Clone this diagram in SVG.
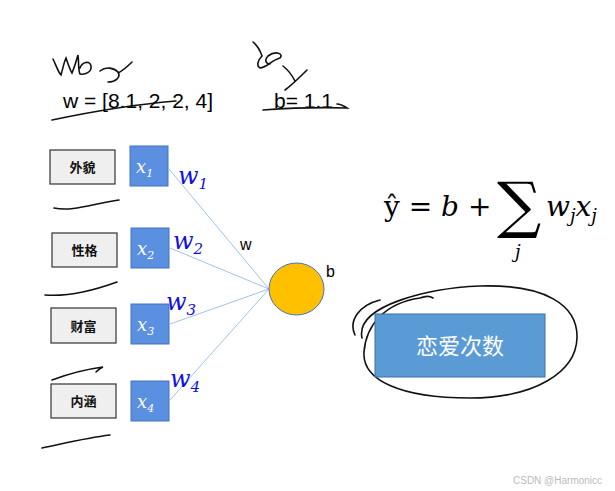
<svg xmlns="http://www.w3.org/2000/svg" width="615" height="491" viewBox="0 0 615 491">
<defs>
<style>
.lbl{fill:#EFEFEF;stroke:#333;stroke-width:1.2}
.lbltxt{font-family:"Noto Sans CJK SC","Noto Sans",sans-serif;font-size:13px;font-weight:bold;fill:#111;text-anchor:middle}
.xbox{fill:#5B8FDF;stroke:#4472C4;stroke-width:1}
.xtxt{font-family:"DejaVu Serif","Liberation Serif",serif;font-style:italic;font-size:18px;fill:#fff}
.sub{font-size:11px}
.wtxt{font-family:"DejaVu Serif","Liberation Serif",serif;font-style:italic;font-size:24px;fill:#1010E0}
.wsub{font-size:15px}
.conn{stroke:#9DC3F0;stroke-width:1;fill:none}
.ink{stroke:#111;stroke-width:1.6;fill:none;stroke-linecap:round}
.plain{font-family:"Liberation Sans",Arial,sans-serif;font-size:21px;fill:#000}
.math{font-family:"DejaVu Serif","Liberation Serif",serif;font-size:28px;fill:#000}
</style>
</defs>
<rect width="615" height="491" fill="#fff"/>

<!-- top texts -->
<text class="plain" x="63" y="108">w = [8.1, 2, 2, 4]</text>
<text class="plain" x="274" y="108">b= 1.1</text>

<!-- handwriting scribbles -->
<g id="scribbles">
<path class="ink" d="M53,59 C56,65 58,72 61,75 C63,68 64,62 66,58 C68,64 70,70 72,73 C75,66 77,58 78,55 C79,62 78,70 80,74 C85,75 92,72 91,66 C90,60 82,62 80,68"/>
<path class="ink" d="M100,71 C106,66 114,68 118,72 C121,77 116,82 108,82 M118,73 C124,70 128,66 132,62"/>
<path class="ink" d="M52,120 C90,112 140,104 176,101"/>
<path class="ink" d="M253,42 C258,46 260,50 262,56 C258,60 256,66 260,68 C266,68 272,60 280,58 C284,54 276,50 268,56 C264,60 266,64 270,64"/>
<path class="ink" d="M283,66 C288,70 292,75 295,81 M307,70 C299,78 292,85 285,90"/>
<path class="ink" d="M263,110 C290,108 320,107 347,108 C344,106 340,104 337,104"/>
<path class="ink" d="M54,208 C72,212 92,204 119,200"/>
<path class="ink" d="M45,295 C70,297 95,290 117,282"/>
<path class="ink" d="M52,380 C68,374 88,369 103,367 C100,368 98,370 96,372"/>
<path class="ink" d="M42,448 C62,444 85,438 110,435"/>
<path class="ink" d="M362,338 C355,305 430,288 480,286 C545,284 578,305 577,338 C576,372 535,398 470,398 C400,398 362,380 364,352 C366,325 385,303 420,298 C425,296 430,296 433,298 M355,335 C348,320 360,305 380,300"/>
</g>

<!-- connectors -->
<g id="connectors">
<line class="conn" x1="169" y1="169" x2="269" y2="289"/>
<line class="conn" x1="170" y1="248" x2="269" y2="289"/>
<line class="conn" x1="170" y1="324" x2="269" y2="289"/>
<line class="conn" x1="170" y1="400" x2="269" y2="289"/>
<text class="plain" x="240" y="250" style="font-size:16px">w</text>
<text class="wtxt" x="178" y="184">w<tspan class="wsub" dy="5">1</tspan></text>
<text class="wtxt" x="173" y="249">w<tspan class="wsub" dy="5">2</tspan></text>
<text class="wtxt" x="166" y="310">w<tspan class="wsub" dy="5">3</tspan></text>
<text class="wtxt" x="170" y="387">w<tspan class="wsub" dy="5">4</tspan></text>
</g>

<!-- label boxes -->
<g id="lbl1"><rect class="lbl" x="50" y="150" width="65" height="34"/><text class="lbltxt" x="82.5" y="172">外貌</text></g>
<g id="lbl2"><rect class="lbl" x="52" y="233" width="65" height="34"/><text class="lbltxt" x="84.5" y="255">性格</text></g>
<g id="lbl3"><rect class="lbl" x="51" y="308" width="65" height="35"/><text class="lbltxt" x="83.5" y="331">财富</text></g>
<g id="lbl4"><rect class="lbl" x="51" y="384" width="65" height="34"/><text class="lbltxt" x="83.5" y="406">内涵</text></g>

<!-- input boxes -->
<g id="x1"><rect class="xbox" x="130" y="146" width="38" height="40"/><text class="xtxt" x="136" y="173">x<tspan class="sub" dy="4">1</tspan></text></g>
<g id="x2"><rect class="xbox" x="131" y="228" width="38" height="40"/><text class="xtxt" x="137" y="255">x<tspan class="sub" dy="4">2</tspan></text></g>
<g id="x3"><rect class="xbox" x="131" y="304" width="38" height="40"/><text class="xtxt" x="137" y="331">x<tspan class="sub" dy="4">3</tspan></text></g>
<g id="x4"><rect class="xbox" x="131" y="381" width="38" height="40"/><text class="xtxt" x="137" y="408">x<tspan class="sub" dy="4">4</tspan></text></g>

<!-- neuron -->
<g id="neuron">
<ellipse cx="296.5" cy="289" rx="27.5" ry="26" fill="#FFC000" stroke="#4472C4" stroke-width="1"/>
<text class="plain" x="326" y="277" style="font-size:16px">b</text>
</g>

<!-- formula -->
<g id="formula">
<text class="math" x="384" y="216">ŷ = <tspan font-style="italic">b</tspan> +</text>
<text class="math" x="497" y="226" style="font-size:62px">∑</text>
<text class="math" x="515" y="258" style="font-size:18px;font-style:italic">j</text>
<text class="math" x="546" y="216" font-style="italic">w<tspan style="font-size:18px" dy="6">j</tspan><tspan dy="-6">x</tspan><tspan style="font-size:18px" dy="6">j</tspan></text>
</g>

<!-- output -->
<g id="output">
<rect x="375" y="314" width="170" height="63" fill="#5B9BD5" stroke="#41719C" stroke-width="1"/>
<text x="460" y="354" text-anchor="middle" style="font-family:'Noto Sans CJK SC','Noto Sans',sans-serif;font-size:22px;fill:#fff">恋爱次数</text>
</g>

<text x="513" y="484" style="font-family:'Liberation Sans',Arial,sans-serif;font-size:10px;fill:#BBB">CSDN @Harmonicc</text>
</svg>
